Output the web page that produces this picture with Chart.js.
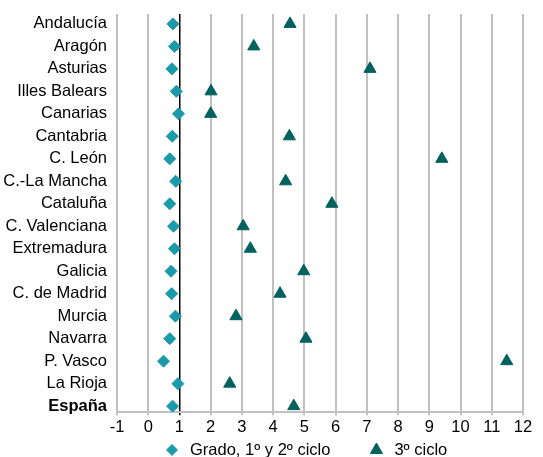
<!DOCTYPE html>
<html>
<head>
<meta charset="utf-8">
<script src="https://cdn.jsdelivr.net/npm/chart.js@4/dist/chart.umd.min.js"></script>
<style>
html,body{margin:0;padding:0;background:#fff;}
#wrap{width:543px;height:457px;position:relative;}
</style>
</head>
<body>
<div id="wrap"><canvas id="c"></canvas></div>
<script>
const categories = ["Andalucía","Aragón","Asturias","Illes Balears","Canarias","Cantabria","C. León","C.-La Mancha","Cataluña","C. Valenciana","Extremadura","Galicia","C. de Madrid","Murcia","Navarra","P. Vasco","La Rioja","España"];
const grado = [0.79,0.84,0.76,0.90,0.97,0.77,0.69,0.88,0.69,0.81,0.84,0.73,0.75,0.87,0.69,0.49,0.95,0.78];
const tercer = [4.54,3.38,7.10,2.01,2.00,4.52,9.40,4.40,5.88,3.04,3.27,4.98,4.22,2.81,5.05,11.48,2.61,4.66];
const seriesNames = ["Grado, 1º y 2º ciclo","3º ciclo"];
const xTicks = [-1,0,1,2,3,4,5,6,7,8,9,10,11,12];

const FONT = "'Liberation Sans', Arial, sans-serif";
const FS = 16.5;
const pts = arr => arr.map((v,i)=>({x:v,y:i}));

// Legend drawn from the datasets' own labels and point styles
const legendPlugin = {
  id: 'rowLegend',
  afterDraw(chart, args, opts) {
    const ctx = chart.ctx;
    ctx.save();
    ctx.font = FS + 'px ' + FONT;
    ctx.textBaseline = 'middle';
    ctx.textAlign = 'left';
    let x = opts.startX;
    const y = opts.y;
    chart.data.datasets.forEach((ds) => {
      ctx.fillStyle = ds.backgroundColor;
      ctx.strokeStyle = ds.borderColor;
      ctx.lineWidth = ds.borderWidth;
      Chart.helpers.drawPoint(ctx, {pointStyle: ds.pointStyle, radius: ds.legendRadius, borderWidth: ds.borderWidth, rotation: 0}, x, y);
      ctx.fillStyle = '#000';
      const tx = x + opts.markerGap;
      ctx.fillText(ds.label, tx, y);
      x = tx + ctx.measureText(ds.label).width + opts.itemGap;
    });
    ctx.restore();
  }
};

new Chart(document.getElementById('c'), {
  type: 'scatter',
  data: {
    datasets: [
      {label: seriesNames[0], data: pts(grado), pointStyle:'rectRot', pointRadius:6, pointHoverRadius:6, legendRadius:5.5,
       backgroundColor:'#1a9aab', borderColor:'#1a9aab', borderWidth:1},
      {label: seriesNames[1], data: pts(tercer), pointStyle:'triangle', pointRadius:7, pointHoverRadius:7, legendRadius:7,
       backgroundColor:'#00615f', borderColor:'#00615f', borderWidth:1}
    ]
  },
  plugins: [legendPlugin],
  options: {
    responsive:true, maintainAspectRatio:false, animation:false,
    layout:{padding:{top:14,right:20,left:0,bottom:18}},
    plugins:{
      tooltip:{enabled:false},
      legend:{display:false},
      rowLegend:{startX:172, y:450, markerGap:18, itemGap:46}
    },
    scales:{
      x:{type:'linear', min:-1, max:12,
        afterBuildTicks: s => { s.ticks = xTicks.map(v=>({value:v})); },
        grid:{color: c => c.tick && c.tick.value===1 ? '#000' : '#c0c0c0',
              lineWidth: c => c.tick && c.tick.value===1 ? 1.5 : 2, tickLength:3, drawTicks:true},
        border:{display:true, color:'#c0c0c0', width:2},
        ticks:{color:'#000', font:{family:FONT,size:FS}, padding:2, maxRotation:0}
      },
      y:{type:'linear', reverse:true, min:-0.44, max:17.27,
        afterBuildTicks: s => { s.ticks = categories.map((c,i)=>({value:i})); },
        afterFit: s => { s.width = 117; s.paddingTop = 0; s.paddingBottom = 0; },
        grid:{display:false, drawTicks:false}, border:{display:false},
        ticks:{color:'#000', padding:10, autoSkip:false,
          callback: v => categories[v] ?? '',
          font: c => ({family:FONT, size:FS, weight: (c.tick && c.tick.value===17) ? 'bold' : 'normal'})}
      }
    }
  }
});
</script>
</body>
</html>
